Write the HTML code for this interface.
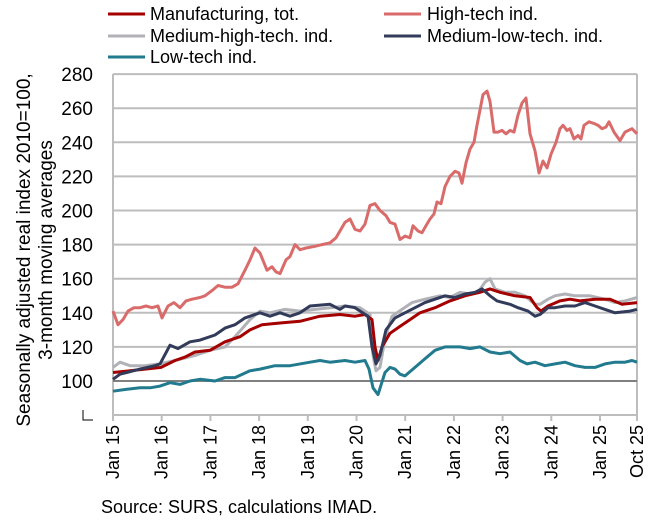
<!DOCTYPE html>
<html><head><meta charset="utf-8"><style>
body{margin:0;background:#fff;}
svg text{font-family:"Liberation Sans",Arial,sans-serif;fill:#000;}
</style></head><body>
<svg id="s" width="650" height="524" xmlns="http://www.w3.org/2000/svg">
<g id="grid"></g>
<line x1="113" y1="74" x2="113" y2="415" stroke="#bdbdbd" stroke-width="2"/>
<line x1="637" y1="74" x2="637" y2="415" stroke="#bdbdbd" stroke-width="2"/>
<g id="series"></g>
<path d="M83 410 V420 H93" fill="none" stroke="#000" stroke-width="1"/>
<g font-size="18">
<line x1="108" y1="14" x2="145" y2="14" stroke="#a50000" stroke-width="3"/><text x="150" y="20">Manufacturing, tot.</text>
<line x1="384" y1="14" x2="421" y2="14" stroke="#d96b6b" stroke-width="3"/><text x="427" y="20">High-tech ind.</text>
<line x1="108" y1="36" x2="145" y2="36" stroke="#b0b2b8" stroke-width="3"/><text x="150" y="42">Medium-high-tech. ind.</text>
<line x1="384" y1="36" x2="421" y2="36" stroke="#323c5a" stroke-width="3"/><text x="427" y="42">Medium-low-tech. ind.</text>
<line x1="108" y1="57" x2="145" y2="57" stroke="#217a8e" stroke-width="3"/><text x="150" y="63">Low-tech ind.</text>
</g>
<text x="0" y="0" font-size="19" text-anchor="middle" transform="translate(30,250) rotate(-90)">Seasonally adjusted real  index 2010=100,</text>
<text x="0" y="0" font-size="19" text-anchor="middle" transform="translate(52,250) rotate(-90)">3-month moving averages</text>
<text x="101" y="513" font-size="18">Source: SURS, calculations IMAD.</text>
</svg>
<script>
var s=document.getElementById('series'),g=document.getElementById('grid'),NS="http://www.w3.org/2000/svg";
function Y(v){return 381-(v-100)*1.705;}
function el(p,n,a){var e=document.createElementNS(NS,n);for(var k in a)e.setAttribute(k,a[k]);p.appendChild(e);return e;}
for(var v=80;v<=280;v+=20){var y=Y(v);if(v!=100&&v!=80)el(g,'line',{x1:113,x2:637,y1:y,y2:y,stroke:'#bdbdbd','stroke-width':2});
if(v>80){var t=el(g,'text',{x:93,y:y+7,'font-size':19,'text-anchor':'end'});t.textContent=v;}}
el(g,'line',{x1:113,x2:637,y1:415,y2:415,stroke:'#bdbdbd','stroke-width':2});
var labs=['Jan 15','Jan 16','Jan 17','Jan 18','Jan 19','Jan 20','Jan 21','Jan 22','Jan 23','Jan 24','Jan 25'];
for(var i=0;i<=11;i++){var x=i<11?113+i*48.7:637;el(g,'line',{x1:x,x2:x,y1:415,y2:421,stroke:'#bdbdbd','stroke-width':2});
var t=el(g,'text',{x:0,y:0,'font-size':18,'text-anchor':'end',transform:'translate('+(x+6)+',425) rotate(-90)'});t.textContent=i<11?labs[i]:'Oct 25';}
var D={
low:['#217a8e',[113,94,125,95,140,96,150,96,160,97,170,99,180,98,190,100,200,101,215,100,225,102,235,102,250,106,260,107,275,109,290,109,310,111,320,112,330,111,345,112,355,111,365,112,369,107,373,96,378,92,385,105,390,108,395,107,400,104,405,103,415,108,425,113,435,118,445,120,460,120,470,119,480,120,490,117,500,116,510,117,520,112,527,110,535,111,545,109,555,110,565,111,575,109,585,108,595,108,605,110,615,111,625,111,632,112,637,111]],
mh:['#b0b2b8',[113,108,120,111,130,109,145,109,160,110,175,112,195,115,210,118,225,120,235,126,250,136,260,141,270,140,285,142,300,141,315,142,330,143,345,144,360,143,370,139,373,115,376,106,380,108,385,125,392,138,402,142,412,146,425,148,440,150,450,149,460,152,470,151,478,152,485,158,490,160,495,154,505,152,515,152,525,150,535,145,540,145,548,148,555,150,565,151,575,150,590,150,605,148,615,146,625,147,637,149]],
man:['#a50000',[113,105,130,106,145,107,161,108,175,112,185,114,195,117,210,118,225,123,240,126,250,130,262,133,280,134,300,135,320,138,340,139,355,138,365,139,372,136,375,120,378,112,382,120,390,128,400,132,410,136,420,140,435,143,450,147,465,150,480,152,490,154,500,152,515,150,530,149,537,143,541,141,548,144,560,147,570,148,580,147,595,148,610,148,622,145,637,146]],
ml:['#323c5a',[113,101,120,104,140,107,155,109,160,110,170,121,178,119,190,123,200,124,215,127,225,131,235,133,245,137,260,140,270,138,280,140,290,138,300,140,310,144,330,145,340,142,345,144,355,143,368,138,372,120,376,110,380,115,386,130,395,137,405,140,415,143,425,146,435,148,445,150,455,149,465,151,475,152,482,154,490,150,497,147,510,145,518,143,528,141,535,138,540,139,548,143,555,143,565,144,575,144,585,146,595,144,605,142,615,140,630,141,637,142]],
ht:['#d96b6b',[113,141,118,133,123,136,128,141,134,143,140,143,146,144,152,143,158,144,162,137,168,144,174,146,180,143,186,147,192,148,200,149,205,150,212,153,218,156,225,155,232,155,238,157,245,165,250,171,255,178,260,175,267,165,272,167,276,164,280,163,286,171,290,173,295,180,300,177,306,178,315,179,322,180,330,181,336,184,345,193,350,195,355,189,360,188,365,192,370,203,375,204,380,200,386,197,390,193,395,192,400,183,405,185,410,184,413,191,418,188,422,187,426,191,430,195,434,198,437,205,441,204,445,214,450,220,455,223,459,222,462,216,466,228,470,236,474,240,477,250,481,262,483,268,487,270,490,264,494,246,498,246,502,247,506,245,510,247,514,246,518,256,522,263,526,266,530,245,535,235,539,222,543,229,547,225,551,233,556,240,560,248,563,250,567,247,570,248,574,242,578,244,581,242,584,250,589,252,594,251,598,250,602,248,606,249,609,252,614,246,620,241,625,246,632,248,637,245]]};
['ht','low','mh','man','ml'].forEach(function(k){var a=D[k][1],p=[];for(var i=0;i<a.length;i+=2)p.push(a[i]+','+Y(a[i+1]).toFixed(1));
if(k=='low')el(s,'line',{x1:113,x2:637,y1:381,y2:381,stroke:'#808080','stroke-width':2});
el(s,'polyline',{points:p.join(' '),fill:'none',stroke:D[k][0],'stroke-width':3,'stroke-linejoin':'round'});});
</script>
</body></html>
